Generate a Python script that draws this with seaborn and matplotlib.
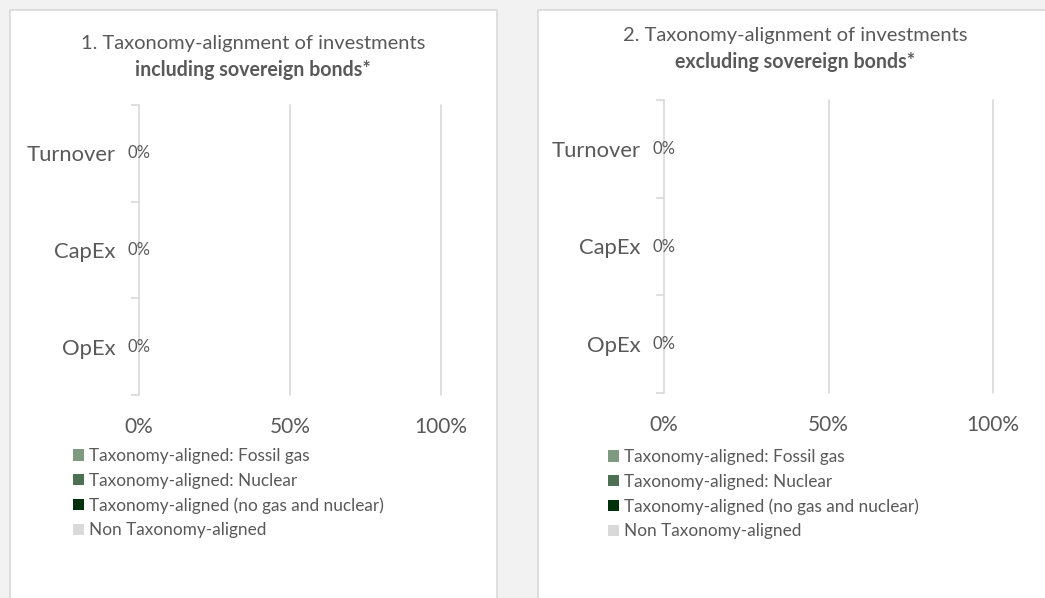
import numpy as np
import pandas as pd
import matplotlib
matplotlib.use("Agg")
import matplotlib.pyplot as plt
from matplotlib.patches import Rectangle, Patch
import seaborn as sns

# --- data ---
categories = ["Turnover", "CapEx", "OpEx"]
series_names = ["Taxonomy-aligned: Fossil gas",
                "Taxonomy-aligned: Nuclear",
                "Taxonomy-aligned (no gas and nuclear)",
                "Non Taxonomy-aligned"]
series_colors = ["#7f9a80", "#4e7052", "#00300c", "#d9d9d9"]

incl_fossil = [0, 0, 0]
incl_nuclear = [0, 0, 0]
incl_aligned = [0, 0, 0]
incl_non = [0, 0, 0]

excl_fossil = [0, 0, 0]
excl_nuclear = [0, 0, 0]
excl_aligned = [0, 0, 0]
excl_non = [0, 0, 0]

x_ticks = [0, 50, 100]
x_ticklabels = ["0%", "50%", "100%"]

title_top = ["1. Taxonomy-alignment of investments", "2. Taxonomy-alignment of investments"]
title_bold = ["including sovereign bonds*", "excluding sovereign bonds*"]

TEXT = "#595959"
GRID = "#d9d9d9"

sns.set_theme(style="white")
plt.rcParams["font.family"] = ["Lato", "DejaVu Sans"]

W, H = 1045, 598
fig = plt.figure(figsize=(W / 100, H / 100), dpi=100)
fig.patch.set_facecolor("#f2f2f2")


def fx(px):
    return px / W


def fy(py):
    return 1 - py / H


# white panel boxes
for x0, x1 in [(10, 497), (538, 1050)]:
    fig.patches.append(Rectangle((fx(x0), fy(610)), fx(x1 - x0), (610 - 10) / H,
                                 transform=fig.transFigure, facecolor="white",
                                 edgecolor=GRID, linewidth=1.2, zorder=-5))

panels = [
    dict(vals=[incl_fossil, incl_nuclear, incl_aligned, incl_non],
         box=(139, 105, 441, 395), title_x=253, title_y=(43, 70), leg=(73, 448)),
    dict(vals=[excl_fossil, excl_nuclear, excl_aligned, excl_non],
         box=(664, 100, 993, 393), title_x=795, title_y=(35, 62), leg=(608, 449)),
]

for i, p in enumerate(panels):
    l, t, r, b = p["box"]
    ax = fig.add_axes([fx(l), fy(b), fx(r - l), (b - t) / H])
    ax.set_facecolor("none")

    df = pd.DataFrame({name: v for name, v in zip(series_names, p["vals"])}, index=categories)
    cum = df.cumsum(axis=1)
    # draw stacked bars back to front, largest cumulative first
    for name, col in reversed(list(zip(series_names, series_colors))):
        sns.barplot(x=cum[name].values, y=categories, color=col, orient="h",
                    width=0.5, ax=ax, zorder=2)

    aligned = df[series_names[:3]].sum(axis=1)
    for j, v in enumerate(aligned):
        ax.text(v, j, f"{v:.0f}%", ha="center", va="center", fontsize=12, color=TEXT, zorder=3)

    ax.set_xlim(0, 100)
    ax.set_ylim(2.5, -0.5)
    ax.set_xticks(x_ticks)
    ax.set_xticklabels(x_ticklabels)
    ax.set_yticks(range(len(categories)))
    ax.set_yticklabels(categories)
    ax.set_yticks([-0.5, 0.5, 1.5, 2.5], minor=True)
    ax.tick_params(axis="y", which="major", left=True, length=0, pad=17, labelsize=15.8, labelcolor=TEXT)
    ax.tick_params(axis="y", which="minor", left=True, length=6, width=1.2, color=GRID, direction="out")
    ax.tick_params(axis="x", length=0, pad=16, labelsize=15, labelcolor=TEXT)
    for s in ["top", "right", "bottom"]:
        ax.spines[s].set_visible(False)
    ax.spines["left"].set_color(GRID)
    ax.spines["left"].set_linewidth(1.2)
    for gx in x_ticks[1:]:
        ax.axvline(gx, color=GRID, linewidth=1.2, zorder=1, clip_on=False)
    ax.set_xlabel("")
    ax.set_ylabel("")

    fig.text(fx(p["title_x"]), fy(p["title_y"][0]), title_top[i], ha="center", va="center",
             fontsize=14.5, color=TEXT)
    fig.text(fx(p["title_x"]), fy(p["title_y"][1]), title_bold[i], ha="center", va="center",
             fontsize=14.1, color=TEXT, fontweight="bold")

    handles = [Patch(facecolor=c, edgecolor="none") for c in series_colors]
    fig.legend(handles, series_names, loc="upper left",
               bbox_to_anchor=(fx(p["leg"][0]), fy(p["leg"][1])),
               frameon=False, borderaxespad=0, borderpad=0, fontsize=12.4,
               handlelength=0.65, handleheight=0.65, handletextpad=0.3,
               labelspacing=0.5, labelcolor=TEXT)

fig.savefig("out.png", dpi=100, facecolor=fig.get_facecolor())
